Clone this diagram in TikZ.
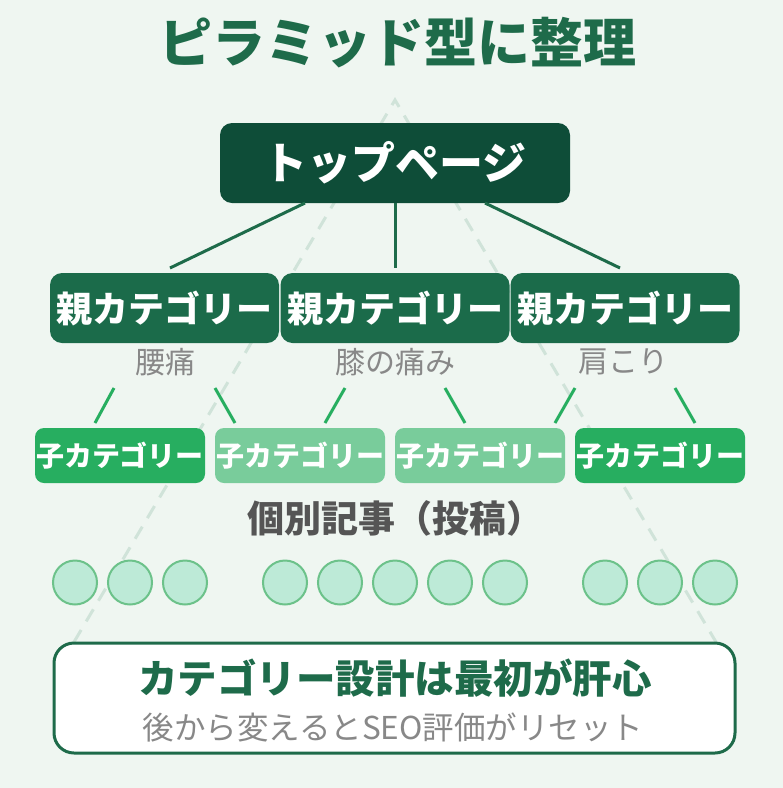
\documentclass[tikz,border=0pt]{standalone}
\usepackage{fontspec}
\setmainfont{Noto Sans CJK JP}
\definecolor{bg}{HTML}{EFF6F1}
\definecolor{topg}{HTML}{0E4D38}
\definecolor{parg}{HTML}{1B6B4A}
\definecolor{titg}{HTML}{1E6B4A}
\definecolor{kidd}{HTML}{27AE60}
\definecolor{kidl}{HTML}{79CC9B}
\definecolor{dashc}{HTML}{D0E3D9}
\definecolor{circf}{HTML}{BDEAD7}
\definecolor{circs}{HTML}{6CC28A}
\definecolor{grayt}{HTML}{888888}
\definecolor{darkt}{HTML}{555555}
\tikzset{
  box/.style={rounded corners=12pt, inner sep=0pt, text=white, font=\bfseries},
  topbox/.style={box, fill=topg, minimum width=350pt, minimum height=80pt, font=\bfseries\fontsize{44}{50}\selectfont},
  parbox/.style={box, fill=parg, minimum width=229pt, minimum height=70pt, font=\bfseries\fontsize{36}{42}\selectfont},
  kidbox/.style={box, rounded corners=9pt, minimum width=170pt, minimum height=55pt, font=\bfseries\fontsize{28}{32}\selectfont},
  sublabel/.style={text=grayt, font=\fontsize{30}{34}\selectfont, inner sep=0pt},
  link/.style={draw=titg, line width=3pt},
  klink/.style={draw=kidd, line width=3pt},
  post/.style={circle, draw=circs, fill=circf, line width=2pt, minimum size=44pt, inner sep=0pt},
}
\begin{document}
\begin{tikzpicture}[x=1pt,y=-1pt]
\fill[bg] (0,0) rectangle (783,788);
\useasboundingbox (0,0) rectangle (783,788);
% dashed pyramid
\coordinate (apex) at (395,100);
\coordinate (bl) at (74,642);
\coordinate (br) at (716,642);
\draw[dashc, line width=3pt, dash pattern=on 14pt off 10pt] (bl) -- (apex) -- (br);
% title
\node[text=titg, font=\bfseries\fontsize{53}{60}\selectfont, inner sep=0pt] (title) at (398,43) {ピラミッド型に整理};
% top
\node[topbox] (top) at (395,163) {トップページ};
% parents
\node[parbox] (p1) at (164.5,308) {親カテゴリー};
\node[parbox] (p2) at (395,308) {親カテゴリー};
\node[parbox] (p3) at (625,308) {親カテゴリー};
\coordinate (t1) at (305,203); \coordinate (t3) at (485,203);
\coordinate (q1) at (170,268); \coordinate (q2) at (395,268); \coordinate (q3) at (620,268);
\draw[link] (t1) -- (q1);
\draw[link] (top.south) -- (q2);
\draw[link] (t3) -- (q3);
% labels
\node[sublabel] (l1) at (165,362) {腰痛};
\node[sublabel] (l2) at (395,362) {膝の痛み};
\node[sublabel] (l3) at (623,362) {肩こり};
% children
\node[kidbox, fill=kidd] (c1) at (120,455.5) {子カテゴリー};
\node[kidbox, fill=kidl] (c2) at (300,455.5) {子カテゴリー};
\node[kidbox, fill=kidl] (c3) at (480,455.5) {子カテゴリー};
\node[kidbox, fill=kidd] (c4) at (660,455.5) {子カテゴリー};
\coordinate (s1a) at (114,388); \coordinate (e1a) at (95,423);
\coordinate (s1b) at (215,388); \coordinate (e1b) at (235,423);
\coordinate (s2a) at (345,388); \coordinate (e2a) at (325,423);
\coordinate (s2b) at (445,388); \coordinate (e2b) at (465,423);
\coordinate (s3a) at (575,388); \coordinate (e3a) at (555,423);
\coordinate (s3b) at (675,388); \coordinate (e3b) at (695,423);
\foreach \k in {1a,1b,2a,2b,3a,3b}{\draw[klink] (s\k) -- (e\k);}
% posts heading
\node[text=darkt, font=\bfseries\fontsize{37}{42}\selectfont, inner sep=0pt] (posts) at (395,518) {個別記事（投稿）};
\foreach \x [count=\i] in {75,130,185,285,340,395,450,505,605,660,715}{
  \node[post] (a\i) at (\x,582.5) {};
}
% bottom box
\node[draw=titg, line width=3pt, fill=white, rounded corners=20pt, minimum width=681pt, minimum height=110pt, inner sep=0pt] (note) at (394.5,698) {};
\node[text=titg, font=\bfseries\fontsize{39.5}{44}\selectfont, inner sep=0pt] (notet) at (395,678) {カテゴリー設計は最初が肝心};
\node[text=grayt, font=\fontsize{31.5}{36}\selectfont, inner sep=0pt] (notes) at (393,727) {後から変えるとSEO評価がリセット};
\end{tikzpicture}
\end{document}
